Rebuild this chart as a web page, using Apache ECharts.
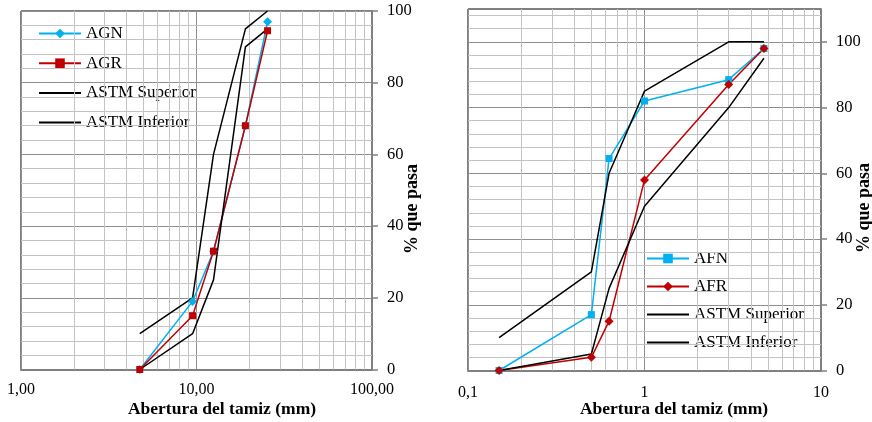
<!DOCTYPE html>
<html>
<head>
<meta charset="utf-8">
<script src="https://cdn.jsdelivr.net/npm/echarts@6/dist/echarts.min.js"></script>
<style>html,body{margin:0;padding:0;background:#fff}#c{width:872px;height:422px}</style>
</head>
<body>
<div id="c"></div>
<script>
// ---- Data (left: coarse aggregate) ----
const leftSieves = [4.75, 9.5, 12.5, 19, 25.4];
const agn = [0, 19, 33, 68, 97];
const agr = [0, 15, 33, 68, 94.5];
const leftUpper = [10, 20, 60, 95, 100];
const leftLower = [0, 10, 25, 90, 95];
// ---- Data (right: fine aggregate) ----
const rightSieves = [0.15, 0.5, 0.63, 1, 3, 4.75];
const afn = [0, 17, 64.5, 82, 88.5, 98];
const afr = [0, 4, 15, 58, 87, 98];
const rightUpper = [10, 30, 60, 85, 100, 100];
const rightLower = [0, 5, 25, 50, 80, 95];
// ---- Tick labels ----
const leftXTickValues = [1, 10, 100];
const leftXTickLabels = ['1,00', '10,00', '100,00'];
const rightXTickValues = [0.1, 1, 10];
const rightXTickLabels = ['0,1', '1', '10'];
const yTickValues = [0, 20, 40, 60, 80, 100];
const leftNames = ['AGN', 'AGR', 'ASTM Superior', 'ASTM Inferior'];
const rightNames = ['AFN', 'AFR', 'ASTM Superior ', 'ASTM Inferior '];
const xTitle = 'Abertura del tamiz (mm)';
const yTitle = '% que pasa';

const FONT = 'Liberation Serif, Times New Roman, serif';
const CYAN = '#00b0f0', RED = '#c00000';
const MINOR = '#c3c3c3', MAJOR = '#8f8f8f', AXIS = '#808080';

function pair(xs, ys) { return xs.map((x, i) => [x, ys[i]]); }
function labelFor(vals, labs) {
  return v => { for (let i = 0; i < vals.length; i++) if (Math.abs(v - vals[i]) / vals[i] < 1e-6) return labs[i]; return ''; };
}
function logMinors(lo, hi) {
  const out = [];
  for (let d = lo; d < hi - 1e-9; d *= 10) for (let k = 2; k <= 9; k++) out.push(+(d * k).toPrecision(3));
  return out;
}
function linMinors(max) {
  const out = [];
  for (let v = 4; v < max; v += 4) if (v % 20 !== 0) out.push(v);
  return out;
}
function gridLineSeries(idx, xmin, xs, ys) {
  return {
    type: 'line', xAxisIndex: idx, yAxisIndex: idx, data: [[xmin, 0]], silent: true, z: 1,
    symbol: 'none', showSymbol: false, lineStyle: { opacity: 0 }, legendHoverLink: false,
    markLine: {
      silent: true, symbol: ['none', 'none'], label: { show: false }, animation: false,
      lineStyle: { color: MINOR, type: 'solid', width: 1 },
      emphasis: { disabled: true },
      data: xs.map(v => ({ xAxis: v })).concat(ys.map(v => ({ yAxis: v })))
    }
  };
}
function dataSeries(name, idx, xs, ys, color, symbol, size) {
  return {
    name, type: 'line', xAxisIndex: idx, yAxisIndex: idx, data: pair(xs, ys), z: 5,
    symbol: symbol || 'none', symbolSize: size || 0, showSymbol: !!symbol,
    lineStyle: { color, width: 1.5 }, itemStyle: { color }, animation: false
  };
}
function xAxisFor(idx, min, max, vals, labs, margin) {
  return {
    type: 'log', logBase: 10, gridIndex: idx, min, max, position: 'bottom',
    axisLine: { show: true, onZero: false, lineStyle: { color: AXIS, width: 2 } },
    axisTick: { show: false },
    axisLabel: { formatter: labelFor(vals, labs), color: '#000', fontFamily: FONT, fontSize: 16, margin },
    splitLine: { show: true, lineStyle: { color: MAJOR, width: 1 } },
    minorSplitLine: { show: false }
  };
}
function yAxisFor(idx, max) {
  return {
    type: 'value', gridIndex: idx, min: 0, max, interval: 20, position: 'right',
    axisLine: { show: true, lineStyle: { color: AXIS, width: 2 } },
    axisTick: { show: true, inside: false, length: 6, customValues: yTickValues, lineStyle: { color: AXIS, width: 1.5 } },
    axisLabel: { customValues: yTickValues, color: '#000', fontFamily: FONT, fontSize: 16.5, margin: 15 },
    splitLine: { show: true, lineStyle: { color: MAJOR, width: 1 } }
  };
}
function textEl(text, x, y, size, rot) {
  return {
    type: 'text', x, y, rotation: rot || 0, z: 10,
    style: { text, font: 'bold ' + size + 'px ' + FONT, fill: '#000', textAlign: 'center', textVerticalAlign: 'middle' }
  };
}
function legendData(names) {
  return names.map((n, i) => i < 2 ? { name: n } : { name: n, itemStyle: { opacity: 0 } });
}

const chart = echarts.init(document.getElementById('c'), null, { renderer: 'canvas' });
chart.setOption({
  animation: false,
  backgroundColor: '#fff',
  grid: [
    { left: 21, top: 11, width: 351, height: 358.5, show: true, borderColor: '#000', borderWidth: 1, containLabel: false },
    { left: 468, top: 9, width: 353, height: 361.5, show: true, borderColor: '#000', borderWidth: 1, containLabel: false }
  ],
  xAxis: [
    xAxisFor(0, 1, 100, leftXTickValues, leftXTickLabels, 12),
    xAxisFor(1, 0.1, 10, rightXTickValues, rightXTickLabels, 14)
  ],
  yAxis: [yAxisFor(0, 100), yAxisFor(1, 110)],
  legend: [
    {
      data: legendData(leftNames), orient: 'vertical', left: 38, top: 25, padding: 0, itemWidth: 42, itemHeight: 12, itemGap: 12.7,
      textStyle: { fontFamily: FONT, fontSize: 17, color: '#000', lineHeight: 17 }, selectedMode: false
    },
    {
      data: legendData(rightNames), orient: 'vertical', left: 646, top: 250, padding: 0, itemWidth: 42, itemHeight: 12, itemGap: 11,
      textStyle: { fontFamily: FONT, fontSize: 17, color: '#000', lineHeight: 17 }, selectedMode: false,
      formatter: n => n.trim()
    }
  ],
  graphic: [
    textEl(xTitle, 222, 409, 17.5),
    textEl(xTitle, 674, 409, 17.5),
    textEl(yTitle, 412, 209, 18, Math.PI / 2),
    textEl(yTitle, 864, 208, 18, Math.PI / 2)
  ],
  series: [
    gridLineSeries(0, 1, logMinors(1, 100), linMinors(100)),
    gridLineSeries(1, 0.1, logMinors(0.1, 10), linMinors(110)),
    dataSeries('AGN', 0, leftSieves, agn, CYAN, 'diamond', 9),
    dataSeries('AGR', 0, leftSieves, agr, RED, 'rect', 7),
    dataSeries('ASTM Superior', 0, leftSieves, leftUpper, '#000'),
    dataSeries('ASTM Inferior', 0, leftSieves, leftLower, '#000'),
    dataSeries('AFN', 1, rightSieves, afn, CYAN, 'rect', 7),
    dataSeries('AFR', 1, rightSieves, afr, RED, 'diamond', 9),
    dataSeries('ASTM Superior ', 1, rightSieves, rightUpper, '#000'),
    dataSeries('ASTM Inferior ', 1, rightSieves, rightLower, '#000')
  ]
});
</script>
</body>
</html>
